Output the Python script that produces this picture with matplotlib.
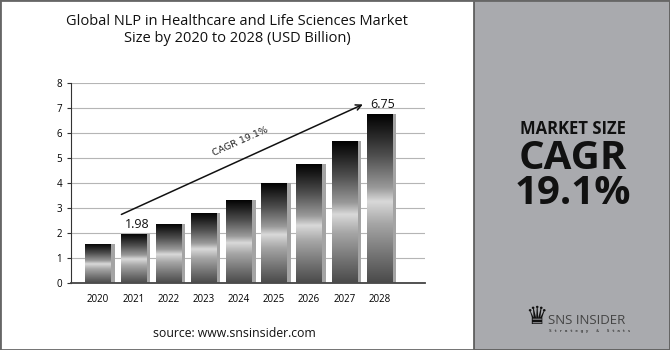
import matplotlib.pyplot as plt
import numpy as np
from matplotlib.colors import LinearSegmentedColormap
from matplotlib.patches import Rectangle

years = ['2020', '2021', '2022', '2023', '2024', '2025', '2026', '2027', '2028']
market_size = [1.58, 1.98, 2.37, 2.81, 3.34, 3.99, 4.75, 5.67, 6.75]
labelled = {1: '1.98', 8: '6.75'}
cagr_text = 'CAGR 19.1%'

plt.rcParams['font.family'] = ['Open Sans', 'DejaVu Sans']

fig = plt.figure(figsize=(6.7, 3.5), dpi=100)
ax = fig.add_axes([0.106, 0.1906, 0.528, 0.573])

# metallic look: black top, bright band near the middle, grey base
metal = LinearSegmentedColormap.from_list('metal', [
    (0.0, '#4a4a4a'), (0.15, '#707070'), (0.35, '#a6a6a6'), (0.48, '#d9d9d9'),
    (0.56, '#9a9a9a'), (0.75, '#4f4f4f'), (0.9, '#1e1e1e'), (1.0, '#000000')])
grad = np.linspace(0, 1, 256).reshape(-1, 1)

x = np.arange(len(years))
width = 0.72
# side shadow of each bar
ax.bar(x + 0.12, market_size, width=width, color='#a4a4a4', zorder=2)
bars = ax.bar(x, market_size, width=width, color='none', zorder=3)
for b in bars:
    im = ax.imshow(grad, cmap=metal, origin='lower', aspect='auto', zorder=3,
                   extent=[b.get_x(), b.get_x() + b.get_width(), 0, b.get_height()])
    im.set_clip_path(b)

for i, txt in labelled.items():
    ax.text(x[i] + 0.1, market_size[i] + 0.12, txt, ha='center', va='bottom',
            fontsize=9, color='#111')

ax.annotate('', xy=(7.6, 7.18), xytext=(0.59, 2.70),
            arrowprops=dict(arrowstyle='->', color='#111', lw=1.1), zorder=5)
ax.text(4.1, 5.5, cagr_text, rotation=24, rotation_mode='anchor', ha='center',
        va='bottom', fontsize=6.8, color='#222', family='Liberation Sans Narrow')

ax.set_xlim(-0.77, 9.29)
ax.set_ylim(0, 8)
ax.set_yticks(range(0, 9))
ax.set_xticks(x)
ax.set_xticklabels(years)
ax.tick_params(axis='x', length=0, pad=8, labelsize=7)
ax.tick_params(axis='y', length=3, labelsize=7, color='#333')
ax.grid(axis='y', color='#b5b5b5', lw=0.8, zorder=0)
ax.set_axisbelow(True)
for s in ['top', 'right']:
    ax.spines[s].set_visible(False)
ax.spines['left'].set_color('#333')
ax.spines['bottom'].set_color('#444')
ax.spines['bottom'].set_linewidth(1.3)

fig.text(0.354, 0.915, 'Global NLP in Healthcare and Life Sciences Market\nSize by 2020 to 2028 (USD Billion)',
         ha='center', va='center', fontsize=10.5, color='#111', linespacing=1.2)
fig.text(0.35, 0.047, 'source: www.snsinsider.com', ha='center', va='center',
         fontsize=8.8, color='#111')

# right-hand summary panel
fig.patches.append(Rectangle((474 / 670, 0), 1 - 474 / 670, 1, transform=fig.transFigure,
                             facecolor='#a9aaae', edgecolor='#555', lw=1.2, zorder=0))
fig.text(0.855, 0.631, 'MARKET SIZE', ha='center', va='center', fontsize=12,
         fontweight='bold', color='#111')
fig.text(0.855, 0.497, 'CAGR\n19.1%', ha='center', va='center', fontsize=29,
         fontweight='bold', color='#111', linespacing=0.85)
fig.text(0.80, 0.095, '\u265b', ha='center', va='center', fontsize=18,
         family='DejaVu Sans', color='#111')
fig.text(0.818, 0.085, 'SNS INSIDER', ha='left', va='center', fontsize=9.5, color='#444')
fig.text(0.82, 0.055, 'S t r a t e g y   &   S t a t s', ha='left', va='center', fontsize=3.2,
         fontweight='bold', family='DejaVu Sans Mono', color='#444')

fig.patches.append(Rectangle((0, 0), 1, 1, transform=fig.transFigure, facecolor='none',
                             edgecolor='#666', lw=2, zorder=10))

fig.savefig('out.png', dpi=100)
